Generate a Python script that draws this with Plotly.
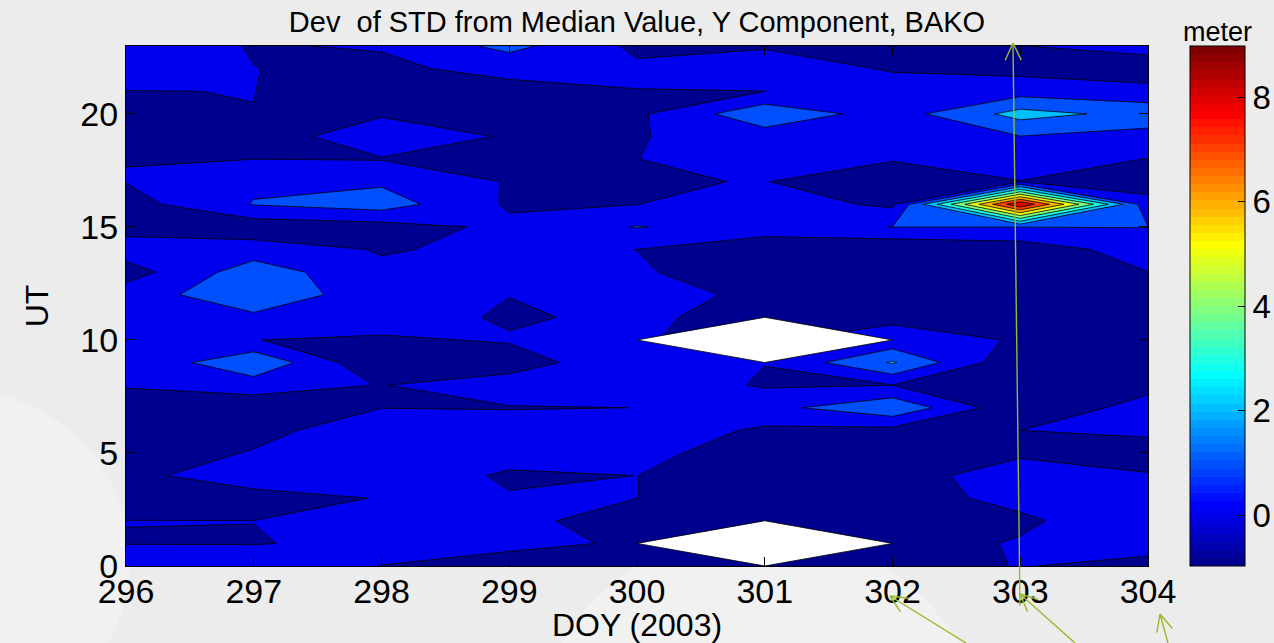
import numpy as np
import plotly.graph_objects as go

# Day of year (columns) and UT hour (rows)
doy = [296, 297, 298, 299, 300, 301, 302, 303, 304]
ut_hours = list(range(24))
nan = float("nan")

# Deviation of STD from median value (meter), one list per UT hour, DOY 296..304
ut00 = [0.6, 0.5, -0.006, -0.76, -0.5, -0.5, -0.5, 0.05, -0.39]
ut01 = [-0.025, -0.03, 0.14, 0.41, -0.2, nan, -0.5, 0.1, 0.5]
ut02 = [0.01, 0.005, 0.5, 0.29, -0.5, -0.5, -0.5, -0.2, 0.8]
ut03 = [-0.5, -0.44, 0.054, 0.088, 0.005, -0.5, -0.5, 0.33, 0.5]
ut04 = [-0.3, 0.64, 0.8, -0.17, 0.005, -0.5, -0.5, 0.6, 0.07]
ut05 = [-0.5, 0.06, 0.5, 0.5, 0.28, -0.5, -0.02, -0.19, -0.45]
ut06 = [-0.5, -0.26, 0.5, 0.5, 0.6, -0.16, -0.3, 0.0, 0.2]
ut07 = [-0.5, -0.6, -0.01, -0.05, 0.004, 0.67, 1.8, -0.8, 0.4]
ut08 = [0.075, 0.45, -0.03, 0.5, 0.6, -0.1, -0.01, -0.5, -0.3]
ut09 = [0.05, 1.9, -0.97, -0.5, 0.78, 0.02, 2.1, -0.85, -0.5]
ut10 = [0.5, 0.01, -0.14, 0.093, 0.01, nan, 0.28, -0.05, -0.5]
ut11 = [0.5, 0.83, 0.5, -0.14, 0.24, -0.5, -0.14, -0.5, -0.5]
ut12 = [0.55, 1.62, 0.49, 0.02, 0.9, -0.5, -0.5, -0.5, -0.5]
ut13 = [-0.47, 1.57, 0.154, 0.5, 0.095, -0.5, -0.5, -0.5, -0.01]
ut14 = [0.53, 0.45, -0.06, 0.17, -0.005, -0.66, -0.9, -0.6, 0.5]
ut15 = [-0.4, -0.6, -0.4, 0.2, 1.05, 0.5, 1.02, 1.02, 1.02]
ut16 = [-0.4, 1.05, 1.5, -0.13, -0.01, 0.5, -0.2, 8.98, 0.3]
ut17 = [0.03, 0.82, 0.84, -0.07, -0.047, 0.02, -0.45, -0.02, -0.4]
ut18 = [-0.017, -0.005, -0.05, -0.5, -0.01, 0.5, 0.05, 0.4, -0.02]
ut19 = [-0.5, -0.45, 0.53, -0.08, -0.06, 0.5, 0.5, 0.98, 0.61]
ut20 = [-0.5, -0.01, -0.1, -0.5, -0.17, 1.75, 0.52, 2.37, 1.66]
ut21 = [-0.015, 0.01, -0.6, -0.3, -0.02, -0.005, 0.5, 0.56, 0.32]
ut22 = [0.5, 0.01, -0.17, 0.27, 0.16, 0.57, -0.1, -0.3, -0.6]
ut23 = [0.5, -0.05, 0.06, 1.3, -0.2, -0.1, -0.5, -0.02, 0.4]

# Axis tick labels
x_ticks = doy
y_ticks = [0, 5, 10, 15, 20]
cbar_ticks = [0, 2, 4, 6, 8]

z = np.array([ut00, ut01, ut02, ut03, ut04, ut05, ut06, ut07, ut08, ut09, ut10, ut11,
              ut12, ut13, ut14, ut15, ut16, ut17, ut18, ut19, ut20, ut21, ut22, ut23])
zmin, zmax = float(np.nanmin(z)), float(np.nanmax(z))

# ---- jet colormap (64 entries) --------------------------------------------
def jet(x):
    r = np.clip(1.5 - abs(4 * x - 3), 0, 1)
    g = np.clip(1.5 - abs(4 * x - 2), 0, 1)
    b = np.clip(1.5 - abs(4 * x - 1), 0, 1)
    return "rgb(%d,%d,%d)" % (round(r * 255), round(g * 255), round(b * 255))

JET = [jet(k / 64) for k in range(1, 65)]

def jet_index(v):
    k = int(np.floor((v - zmin) / (zmax - zmin) * 64))
    return min(max(k, 0), 63)

# contour levels 0..8 step 1; band below 0 takes the colour of the minimum
lev_start, lev_end, lev_step = 0, 8, 1
levels = list(range(lev_start, lev_end + 1, lev_step))
n_bands = len(levels) + 1
band_values = [zmin] + levels
band_scale = [[i / (n_bands - 1), JET[jet_index(v)]] for i, v in enumerate(band_values)]

# 64-step colour bar
bar_scale = []
for i, c in enumerate(JET):
    bar_scale.append([i / 64, c])
    bar_scale.append([(i + 1) / 64, c])

FONT = "Liberation Sans, Arial, sans-serif"

# plot-area geometry in page pixels
L, R, T, B = 126, 1148, 46, 566
W_PLOT, H_PLOT = R - L, B - T
CB_LEFT, CB_THICK = 1190, 55


def px_x(p):
    return (p - L) / W_PLOT


def px_y(p):
    return (B - p) / H_PLOT


fig = go.Figure()

fig.add_trace(go.Contour(
    x=doy, y=ut_hours, z=z,
    autocontour=False,
    contours=dict(start=lev_start, end=lev_end, size=lev_step, coloring="fill", showlines=True),
    line=dict(color="black", width=0.8, smoothing=0),
    colorscale=band_scale,
    showscale=False,
    connectgaps=False,
    hoverinfo="skip",
))

# blank out the neighbourhood of missing samples
for j in range(z.shape[0]):
    for i in range(z.shape[1]):
        if np.isnan(z[j, i]):
            xs = [doy[max(i - 1, 0)], doy[i], doy[min(i + 1, len(doy) - 1)], doy[i], doy[max(i - 1, 0)]]
            ys = [ut_hours[j], ut_hours[min(j + 1, 23)], ut_hours[j], ut_hours[max(j - 1, 0)], ut_hours[j]]
            fig.add_trace(go.Scatter(x=xs, y=ys, mode="lines", fill="toself",
                                     fillcolor="white", line=dict(color="black", width=0.8),
                                     hoverinfo="skip", showlegend=False))

# colour bar
fig.add_trace(go.Scatter(
    x=[doy[0]], y=[ut_hours[0]], mode="markers",
    marker=dict(size=0.1, opacity=0, color=[zmin], cmin=zmin, cmax=zmax,
                colorscale=bar_scale, showscale=True,
                colorbar=dict(
                    x=px_x(CB_LEFT), xanchor="left", xpad=0,
                    y=0.5, yanchor="middle", ypad=0, len=1, lenmode="fraction",
                    thickness=CB_THICK, thicknessmode="pixels",
                    outlinecolor="black", outlinewidth=1,
                    tickvals=cbar_ticks, ticks="inside", ticklen=7, tickcolor="black",
                    tickfont=dict(family=FONT, size=33, color="black"),
                )),
    hoverinfo="skip", showlegend=False,
))

shapes = []

# matching tick marks on the left edge of the colour bar
for v in cbar_ticks:
    yy = (v - zmin) / (zmax - zmin)
    shapes.append(dict(type="line", xref="paper", yref="paper",
                       x0=px_x(CB_LEFT), x1=px_x(CB_LEFT + 7), y0=yy, y1=yy,
                       line=dict(color="black", width=1)))

# green pointer arrows
GREEN = "#9ab82c"
arrows = [((1020, 606), (1013, 43)), ((966, 643), (890, 596)),
          ((1075, 643), (1020, 594)), ((1168, 643), (1160, 614))]
for (tx, ty), (hx, hy) in arrows:
    shapes.append(dict(type="line", xref="paper", yref="paper",
                       x0=px_x(tx), y0=px_y(ty), x1=px_x(hx), y1=px_y(hy),
                       line=dict(color=GREEN, width=1.4)))
    d = np.array([tx - hx, ty - hy], dtype=float)
    d /= np.linalg.norm(d)
    for ang in (np.radians(25), -np.radians(25)):
        rx = d[0] * np.cos(ang) - d[1] * np.sin(ang)
        ry = d[0] * np.sin(ang) + d[1] * np.cos(ang)
        shapes.append(dict(type="line", xref="paper", yref="paper",
                           x0=px_x(hx), y0=px_y(hy), x1=px_x(hx + 19 * rx), y1=px_y(hy + 19 * ry),
                           line=dict(color=GREEN, width=1.4)))

# soft light swirls in the page background
for cx, cy, r in [(-40, 560, 170), (760, 760, 230)]:
    shapes.append(dict(type="circle", xref="paper", yref="paper", layer="below",
                       x0=px_x(cx - r), x1=px_x(cx + r), y0=px_y(cy + r), y1=px_y(cy - r),
                       fillcolor="rgba(255,255,255,0.28)", line=dict(width=0)))

fig.update_layout(
    width=1274, height=643, autosize=False,
    margin=dict(l=L, r=1274 - R, t=T, b=643 - B, autoexpand=False),
    paper_bgcolor="#ececec", plot_bgcolor="white",
    title=dict(text="Dev  of STD from Median Value, Y Component, BAKO",
               x=0.5, xref="paper", xanchor="center",
               y=1 - 22 / 643, yref="container", yanchor="middle",
               font=dict(family=FONT, size=29, color="black")),
    xaxis=dict(range=[296, 304], tickvals=x_ticks, ticks="inside", ticklen=9,
               tickcolor="black", showline=True, linecolor="black", linewidth=1,
               mirror="ticks", showgrid=False, zeroline=False, ticklabelstandoff=-5,
               tickfont=dict(family=FONT, size=34, color="black"),
               title=dict(text="DOY (2003)", standoff=3,
                          font=dict(family=FONT, size=32, color="black"))),
    yaxis=dict(range=[0, 23], tickvals=y_ticks, ticks="inside", ticklen=9,
               tickcolor="black", showline=True, linecolor="black", linewidth=1,
               mirror="ticks", showgrid=False, zeroline=False,
               tickfont=dict(family=FONT, size=34, color="black"),
               title=dict(text="UT", standoff=22,
                          font=dict(family=FONT, size=32, color="black"))),
    annotations=[dict(text="meter", xref="paper", yref="paper",
                      x=px_x(1217), y=px_y(32), xanchor="center", yanchor="middle",
                      showarrow=False, font=dict(family=FONT, size=27, color="black"))],
    shapes=shapes,
    showlegend=False,
)

fig.write_html("out.html")
